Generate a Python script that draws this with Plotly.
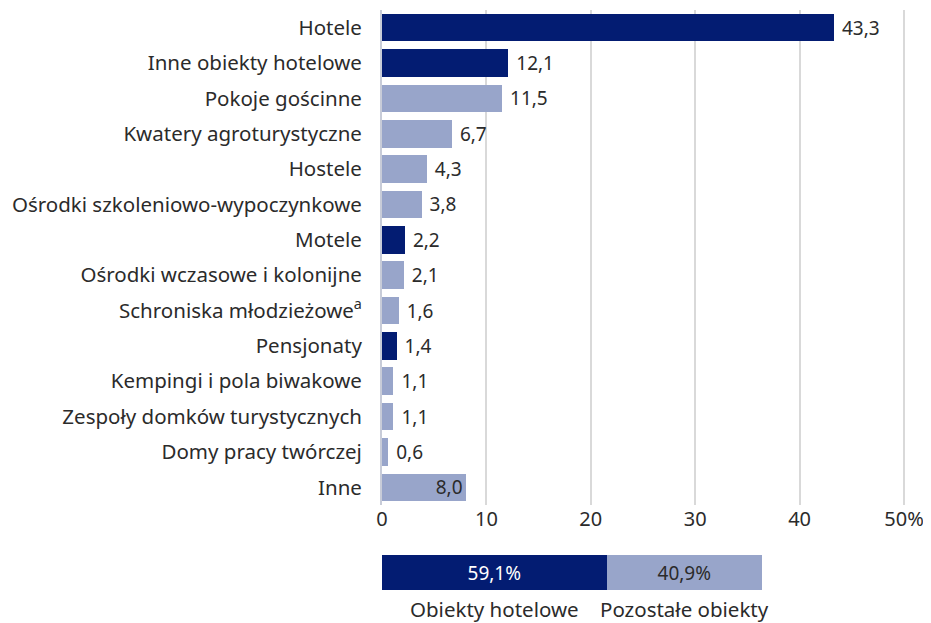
import plotly.graph_objects as go

categories = [
    "Hotele", "Inne obiekty hotelowe", "Pokoje gościnne", "Kwatery agroturystyczne",
    "Hostele", "Ośrodki szkoleniowo-wypoczynkowe", "Motele", "Ośrodki wczasowe i kolonijne",
    "Schroniska młodzieżowe<sup>a</sup>", "Pensjonaty", "Kempingi i pola biwakowe",
    "Zespoły domków turystycznych", "Domy pracy twórczej", "Inne",
]
values = [43.3, 12.1, 11.5, 6.7, 4.3, 3.8, 2.2, 2.1, 1.6, 1.4, 1.1, 1.1, 0.6, 8.0]
is_hotel = [True, True, False, False, False, False, True, False, False, True, False, False, False, False]

summary_labels = ["Obiekty hotelowe", "Pozostałe obiekty"]
summary_values = [59.1, 40.9]

x_ticks = [0, 10, 20, 30, 40, 50]
x_tick_text = ["0", "10", "20", "30", "40", "50%"]

DARK = "#031c72"
LIGHT = "#98a5ca"
TEXT = "#2b2b2b"
FONT = "Noto Sans"
FS = 19

# page has an 8px body margin, so the figure is the visible area minus it
OFF = 8
W, H = 931 - OFF, 623 - OFF


def px(sx):
    return (sx - OFF) / W


def py(sy):
    return 1 - (sy - OFF) / H


def fmt(v):
    return f"{v:.1f}".replace(".", ",")


x_zero, x_fifty = 382, 904
x_max = 50.5
x_end = x_zero + (x_fifty - x_zero) * x_max / 50

fig = go.Figure()

colors = [DARK if h else LIGHT for h in is_hotel]
text_pos = ["outside"] * (len(values) - 1) + ["inside"]
fig.add_trace(go.Bar(
    y=categories, x=values, orientation="h",
    marker=dict(color=colors, line=dict(width=0)),
    text=["\u00a0" + fmt(v) if p == "outside" else fmt(v) for v, p in zip(values, text_pos)],
    textposition=text_pos,
    insidetextanchor="end",
    textfont=dict(color=TEXT, size=FS, family=FONT),
    outsidetextfont=dict(color=TEXT, size=FS, family=FONT),
    insidetextfont=dict(color=TEXT, size=FS, family=FONT),
    cliponaxis=False,
    width=0.78,
    xaxis="x", yaxis="y",
    showlegend=False,
))

# summary stacked bar
seg_colors = [DARK, LIGHT]
seg_text_colors = ["white", TEXT]
for lab, val, c, tc in zip(summary_labels, summary_values, seg_colors, seg_text_colors):
    fig.add_trace(go.Bar(
        y=[0], x=[val], orientation="h", name=lab,
        marker=dict(color=c, line=dict(width=0)),
        text=[fmt(val) + "%"], textposition="inside", insidetextanchor="middle",
        textfont=dict(color=tc, size=FS, family=FONT),
        width=1, xaxis="x2", yaxis="y2", showlegend=False,
    ))

cum = 0
for lab, val in zip(summary_labels, summary_values):
    fig.add_annotation(
        x=cum + val / 2, xref="x2", y=py(609), yref="paper",
        text=lab, showarrow=False, font=dict(color=TEXT, size=20.5, family=FONT),
        xanchor="center", yanchor="middle",
    )
    cum += val

fig.update_layout(
    width=W, height=H,
    margin=dict(l=0, r=0, t=0, b=0, pad=0),
    paper_bgcolor="white", plot_bgcolor="white",
    barmode="stack",
    font=dict(family=FONT, size=FS, color=TEXT),
    uniformtext=dict(minsize=FS, mode="show"),
    xaxis=dict(
        domain=[px(x_zero), px(x_end)], range=[0, x_max],
        tickvals=x_ticks, ticktext=x_tick_text, tickfont=dict(size=20),
        showgrid=True, gridcolor="#d9d9d9", gridwidth=2,
        zeroline=False, showline=False, ticks="", fixedrange=True,
        anchor="y", automargin=False,
    ),
    yaxis=dict(
        domain=[py(505), py(10)], tickfont=dict(size=20.5),
        autorange="reversed", showgrid=False, zeroline=False,
        ticks="", ticklabelstandoff=14, showline=True, linecolor="#c8ccd8", linewidth=2,
        automargin=False,
    ),
    xaxis2=dict(
        domain=[px(x_zero), px(x_zero + 380)], range=[0, 100],
        visible=False, anchor="y2", automargin=False,
    ),
    yaxis2=dict(
        domain=[py(590), py(555)], range=[-0.5, 0.5],
        visible=False, anchor="x2", automargin=False,
    ),
)

fig.write_html("out.html")
